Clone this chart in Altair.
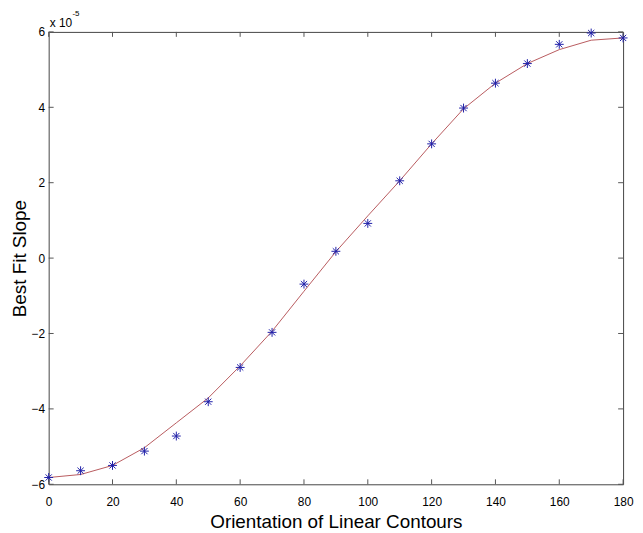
import altair as alt
import pandas as pd

angles = [0, 10, 20, 30, 40, 50, 60, 70, 80, 90, 100, 110, 120, 130, 140, 150, 160, 170, 180]
slope_points = [-5.82, -5.64, -5.50, -5.12, -4.72, -3.81, -2.90, -1.97, -0.69, 0.18,
                0.92, 2.05, 3.03, 3.98, 4.64, 5.16, 5.67, 5.97, 5.84]
slope_fit = [-5.82, -5.74, -5.50, -5.03, -4.37, -3.71, -2.86, -1.94, -0.88, 0.17,
             1.12, 2.05, 3.03, 3.96, 4.64, 5.16, 5.53, 5.78, 5.84]
x_ticks = [0, 20, 40, 60, 80, 100, 120, 140, 160, 180]
y_ticks = [-6, -4, -2, 0, 2, 4, 6]

df = pd.DataFrame({"angle": angles, "pt": slope_points, "fit": slope_fit})
xt = pd.DataFrame({"angle": x_ticks})
yt = pd.DataFrame({"fit": y_ticks})

W, H = 579, 456
FONT = "Liberation Sans"
TICK = "#555"
TL = 5
xs = alt.Scale(domain=[0, 180], nice=False)
ys = alt.Scale(domain=[-6, 6], nice=False)

base = alt.Chart(df)

line = base.mark_line(color="#b85a5e", strokeWidth=1).encode(
    x=alt.X("angle:Q", scale=xs, axis=alt.Axis(
        orient="bottom", values=x_ticks, ticks=False, tickSize=0, domain=False, grid=False,
        labelFlush=False, labelPadding=12, labelFontSize=12, labelColor="#000", labelFont=FONT,
        title="Orientation of Linear Contours", titleFont=FONT, titleFontSize=19,
        titleFontWeight="normal", titleColor="#000", titlePadding=6)),
    y=alt.Y("fit:Q", scale=ys, axis=alt.Axis(
        orient="left", values=y_ticks, ticks=False, tickSize=0, domain=False, grid=False,
        labelFlush=False, labelPadding=4, labelFontSize=12, labelColor="#000", labelFont=FONT,
        title="Best Fit Slope", titleFont=FONT, titleFontSize=19,
        titleFontWeight="normal", titleColor="#000", titlePadding=2)),
)

asterisk = "M -1 0 L 1 0 M 0 -1 L 0 1 M -0.7 -0.7 L 0.7 0.7 M -0.7 0.7 L 0.7 -0.7"

points = base.mark_point(shape=asterisk, filled=False, color="#1f1fa8",
                         strokeWidth=1, size=80, opacity=1).encode(
    x=alt.X("angle:Q", scale=xs),
    y=alt.Y("pt:Q", scale=ys),
)

xtick_bottom = alt.Chart(xt).mark_rule(color=TICK, strokeWidth=1).encode(
    x=alt.X("angle:Q", scale=xs), y=alt.value(H - TL), y2=alt.value(H))
xtick_top = alt.Chart(xt).mark_rule(color=TICK, strokeWidth=1).encode(
    x=alt.X("angle:Q", scale=xs), y=alt.value(0), y2=alt.value(TL))
ytick_left = alt.Chart(yt).mark_rule(color=TICK, strokeWidth=1).encode(
    y=alt.Y("fit:Q", scale=ys), x=alt.value(0), x2=alt.value(TL))
ytick_right = alt.Chart(yt).mark_rule(color=TICK, strokeWidth=1).encode(
    y=alt.Y("fit:Q", scale=ys), x=alt.value(W - TL), x2=alt.value(W))

exp_main = alt.Chart(pd.DataFrame({"t": ["x 10"]})).mark_text(
    align="left", baseline="alphabetic", fontSize=12, font=FONT, color="#000"
).encode(text="t:N", x=alt.value(1), y=alt.value(-5))
exp_sup = alt.Chart(pd.DataFrame({"t": ["-5"]})).mark_text(
    align="left", baseline="alphabetic", fontSize=8, font=FONT, color="#000"
).encode(text="t:N", x=alt.value(24), y=alt.value(-16))

chart = alt.layer(
    line, points, xtick_bottom, xtick_top, ytick_left, ytick_right, exp_main, exp_sup
).properties(
    width=W, height=H,
    autosize=alt.AutoSizeParams(type="none"),
    padding={"left": 41, "top": 22, "right": 12, "bottom": 46},
    background="white",
).configure_view(stroke="#444", strokeWidth=1)

chart.save("out.html", embed_options={"renderer": "svg", "actions": False})
